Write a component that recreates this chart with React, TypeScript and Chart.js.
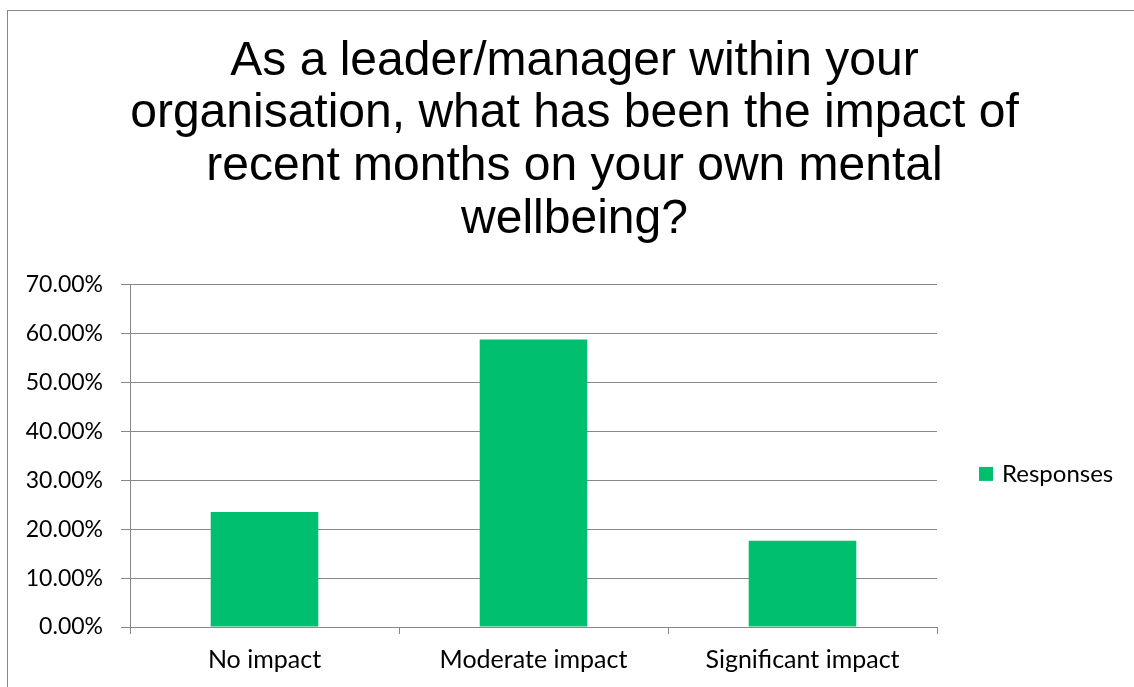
import React, { useEffect, useRef } from "react";
import { Chart, registerables } from "chart.js";

Chart.register(...registerables);

const categories = ["No impact", "Moderate impact", "Significant impact"];
const responses = [0.2353, 0.5882, 0.1765];
const seriesName = "Responses";
const titleLines = [
  "As a leader/manager within your",
  "organisation, what has been the impact of",
  "recent months on your own mental",
  "wellbeing?",
];
const yMax = 0.7;
const yStep = 0.1;

const barColor = "#00BF6F";

const legendPlugin = {
  id: "customLegend",
  afterDraw(chart: any) {
    const { ctx, chartArea } = chart;
    const ds = chart.data.datasets[0];
    const cy = (chartArea.top + chartArea.bottom) / 2 + 18;
    const x = chartArea.right + 42;
    ctx.save();
    ctx.fillStyle = ds.backgroundColor;
    ctx.fillRect(x, cy - 7, 14, 14);
    ctx.fillStyle = "#000";
    ctx.font = "24px Lato";
    ctx.textBaseline = "middle";
    ctx.textAlign = "left";
    ctx.fillText(ds.label, x + 23, cy);
    ctx.restore();
  },
};

export default function App() {
  const ref = useRef<HTMLCanvasElement | null>(null);
  useEffect(() => {
    if (!ref.current) return;
    const chart = new Chart(ref.current, {
      type: "bar",
      data: {
        labels: categories,
        datasets: [
          {
            label: seriesName,
            data: responses,
            backgroundColor: barColor,
            borderWidth: 0,
            barPercentage: 0.4,
            categoryPercentage: 1.0,
          },
        ],
      },
      plugins: [legendPlugin],
      options: {
        responsive: false,
        animation: false,
        devicePixelRatio: 1,
        layout: { padding: { left: 0, right: 0, top: 0, bottom: 25 } },
        plugins: {
          title: {
            display: true,
            text: titleLines,
            color: "#000",
            font: { family: "Liberation Sans", size: 48, weight: "normal", lineHeight: 1.098 },
            padding: { top: 24, bottom: 39 },
          },
          legend: { display: false },
          tooltip: { enabled: false },
        },
        scales: {
          x: {
            offset: true,
            grid: {
              offset: true,
              drawOnChartArea: false,
              drawTicks: true,
              tickLength: 7,
              color: "#888",
            },
            border: { color: "#888" },
            ticks: { color: "#000", font: { family: "Lato", size: 25 }, padding: 11, maxRotation: 0 },
          },
          y: {
            min: 0,
            max: yMax,
            grid: { color: "#888", tickLength: 9 },
            border: { color: "#888" },
            afterFit: (s: any) => {
              s.width = 122;
            },
            ticks: {
              stepSize: yStep,
              color: "#000",
              font: { family: "Lato", size: 23 },
              padding: 18,
              callback: (v: any) => (Number(v) * 100).toFixed(2) + "%",
            },
          },
          legendSpace: {
            type: "linear",
            position: "right",
            display: true,
            grid: { display: false, drawTicks: false },
            border: { display: false },
            ticks: { display: false },
            afterFit: (s: any) => {
              s.width = 204;
            },
          },
        },
      },
    });
    return () => chart.destroy();
  }, []);
  return (
    <div style={{ position: "fixed", left: 0, top: 0, width: 1134, height: 687, overflow: "hidden", background: "#fff" }}>
      <div
        style={{
          position: "absolute",
          left: 7,
          top: 10,
          width: 1133,
          height: 700,
          border: "1px solid #878787",
          background: "#fff",
        }}
      >
        <canvas ref={ref} width={1133} height={700} style={{ display: "block", width: 1133, height: 700 }} />
      </div>
    </div>
  );
}
